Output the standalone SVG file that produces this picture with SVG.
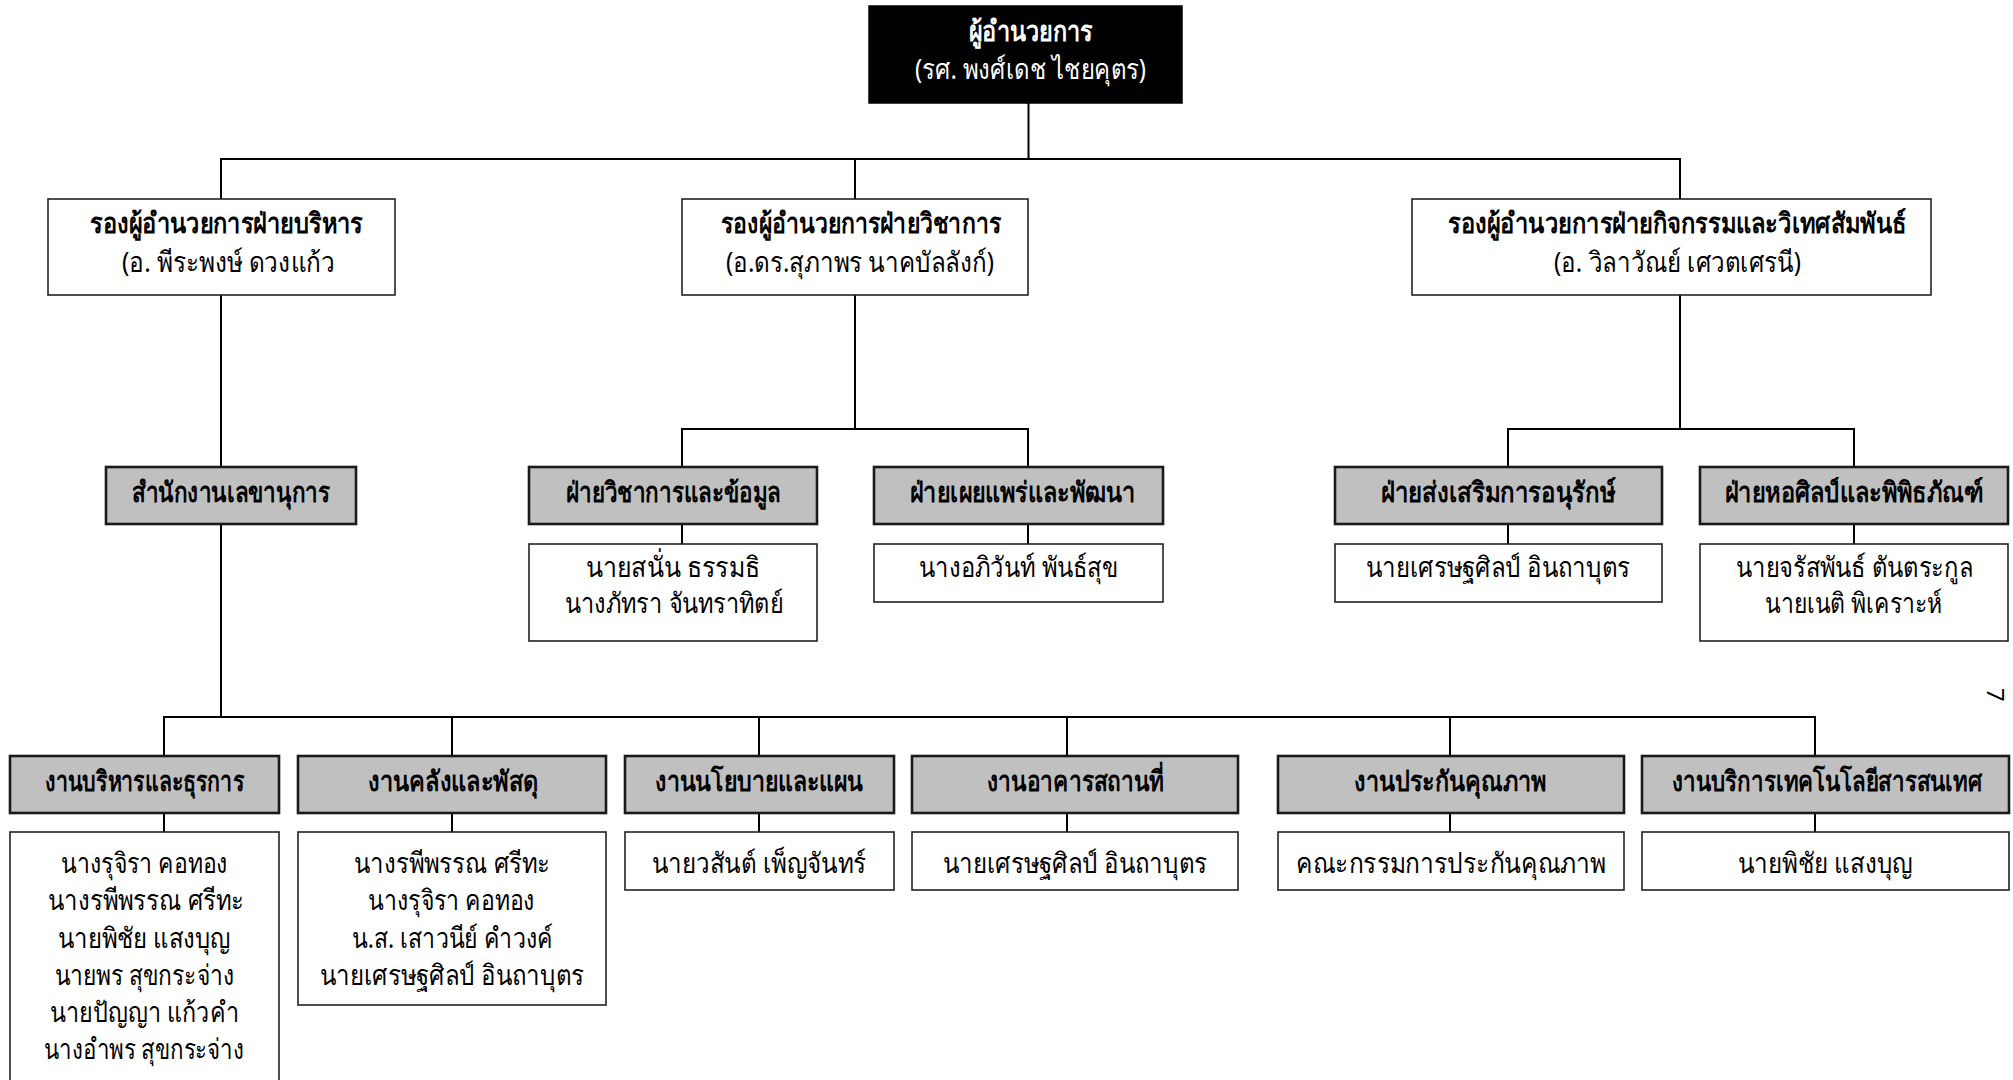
<svg xmlns="http://www.w3.org/2000/svg" width="2013" height="1080" viewBox="0 0 2013 1080">
<style>
text{font-family:"Noto Sans","DejaVu Sans",sans-serif;font-size:28px;fill:#000}
.b{font-weight:bold}
.w{fill:#fff}
.top{fill:#000;stroke:#000;stroke-width:1.5}
.box{fill:#fff;stroke:#222;stroke-width:1.6}
.g{fill:#c0c0c0;stroke:#1a1a1a;stroke-width:2.6}
#connectors line{stroke:#000;stroke-width:2}
</style>
<rect width="2013" height="1080" fill="#fff"/>
<g id="connectors">
<line x1="1028.5" y1="103" x2="1028.5" y2="159"/>
<line x1="220" y1="159" x2="1681" y2="159"/>
<line x1="221" y1="159" x2="221" y2="199"/>
<line x1="855" y1="159" x2="855" y2="199"/>
<line x1="1680" y1="159" x2="1680" y2="199"/>
<line x1="221" y1="295" x2="221" y2="467"/>
<line x1="221" y1="524" x2="221" y2="717"/>
<line x1="855" y1="295" x2="855" y2="429"/>
<line x1="681" y1="429" x2="1029" y2="429"/>
<line x1="682" y1="429" x2="682" y2="544"/>
<line x1="1028" y1="429" x2="1028" y2="544"/>
<line x1="1680" y1="295" x2="1680" y2="429"/>
<line x1="1507" y1="429" x2="1855" y2="429"/>
<line x1="1508" y1="429" x2="1508" y2="544"/>
<line x1="1854" y1="429" x2="1854" y2="544"/>
<line x1="163" y1="717" x2="1816" y2="717"/>
<line x1="164" y1="717" x2="164" y2="832"/>
<line x1="452" y1="717" x2="452" y2="832"/>
<line x1="759" y1="717" x2="759" y2="832"/>
<line x1="1067" y1="717" x2="1067" y2="832"/>
<line x1="1450" y1="717" x2="1450" y2="832"/>
<line x1="1815" y1="717" x2="1815" y2="832"/>
</g>
<g id="director">
<rect class="top" x="869" y="6" width="313" height="97"/>
<text class="b w" x="969" y="41" textLength="124" lengthAdjust="spacingAndGlyphs">ผู้อำนวยการ</text>
<text class="w" x="915" y="79" textLength="231" lengthAdjust="spacingAndGlyphs">(รศ. พงศ์เดช ไชยคุตร)</text>
</g>
<g id="deputy-admin">
<rect class="box" x="48" y="199" width="347" height="96"/>
<text class="b" x="90" y="233" textLength="273" lengthAdjust="spacingAndGlyphs">รองผู้อำนวยการฝ่ายบริหาร</text>
<text x="122" y="272" textLength="213" lengthAdjust="spacingAndGlyphs">(อ. พีระพงษ์ ดวงแก้ว</text>
</g>
<g id="deputy-academic">
<rect class="box" x="682" y="199" width="346" height="96"/>
<text class="b" x="721" y="233" textLength="280" lengthAdjust="spacingAndGlyphs">รองผู้อำนวยการฝ่ายวิชาการ</text>
<text x="726" y="272" textLength="268" lengthAdjust="spacingAndGlyphs">(อ.ดร.สุภาพร นาคบัลลังก์)</text>
</g>
<g id="deputy-activities">
<rect class="box" x="1412" y="199" width="519" height="96"/>
<text class="b" x="1448" y="233" textLength="458" lengthAdjust="spacingAndGlyphs">รองผู้อำนวยการฝ่ายกิจกรรมและวิเทศสัมพันธ์</text>
<text x="1554" y="272" textLength="247" lengthAdjust="spacingAndGlyphs">(อ. วิลาวัณย์ เศวตเศรนี)</text>
</g>
<g id="secretariat">
<rect class="g" x="106" y="467" width="250" height="57"/>
<text class="b" x="132" y="502" textLength="198" lengthAdjust="spacingAndGlyphs">สำนักงานเลขานุการ</text>
</g>
<g id="academic-info">
<rect class="g" x="529" y="467" width="288" height="57"/>
<text class="b" x="566" y="502" textLength="215" lengthAdjust="spacingAndGlyphs">ฝ่ายวิชาการและข้อมูล</text>
<rect class="box" x="529" y="544" width="288" height="97"/>
<text x="586" y="577" textLength="174" lengthAdjust="spacingAndGlyphs">นายสนั่น ธรรมธิ</text>
<text x="565" y="613" textLength="218" lengthAdjust="spacingAndGlyphs">นางภัทรา จันทราทิตย์</text>
</g>
<g id="publishing">
<rect class="g" x="874" y="467" width="289" height="57"/>
<text class="b" x="910" y="502" textLength="225" lengthAdjust="spacingAndGlyphs">ฝ่ายเผยแพร่และพัฒนา</text>
<rect class="box" x="874" y="544" width="289" height="58"/>
<text x="919" y="577" textLength="199" lengthAdjust="spacingAndGlyphs">นางอภิวันท์ พันธ์สุข</text>
</g>
<g id="conservation">
<rect class="g" x="1335" y="467" width="327" height="57"/>
<text class="b" x="1381" y="502" textLength="234" lengthAdjust="spacingAndGlyphs">ฝ่ายส่งเสริมการอนุรักษ์</text>
<rect class="box" x="1335" y="544" width="327" height="58"/>
<text x="1366" y="577" textLength="264" lengthAdjust="spacingAndGlyphs">นายเศรษฐศิลป์ อินถาบุตร</text>
</g>
<g id="gallery">
<rect class="g" x="1700" y="467" width="308" height="57"/>
<text class="b" x="1725" y="502" textLength="258" lengthAdjust="spacingAndGlyphs">ฝ่ายหอศิลป์และพิพิธภัณฑ์</text>
<rect class="box" x="1700" y="544" width="308" height="97"/>
<text x="1736" y="577" textLength="237" lengthAdjust="spacingAndGlyphs">นายจรัสพันธ์ ตันตระกูล</text>
<text x="1765" y="613" textLength="177" lengthAdjust="spacingAndGlyphs">นายเนติ พิเคราะห์</text>
</g>
<g id="admin-work">
<rect class="g" x="10" y="756" width="269" height="57"/>
<text class="b" x="45" y="791" textLength="199" lengthAdjust="spacingAndGlyphs">งานบริหารและธุรการ</text>
<rect class="box" x="10" y="832" width="269" height="270"/>
<text x="61" y="873" textLength="167" lengthAdjust="spacingAndGlyphs">นางรุจิรา คอทอง</text>
<text x="48" y="910" textLength="196" lengthAdjust="spacingAndGlyphs">นางรพีพรรณ ศรีทะ</text>
<text x="58" y="948" textLength="173" lengthAdjust="spacingAndGlyphs">นายพิชัย แสงบุญ</text>
<text x="55" y="985" textLength="179" lengthAdjust="spacingAndGlyphs">นายพร สุขกระจ่าง</text>
<text x="50" y="1022" textLength="189" lengthAdjust="spacingAndGlyphs">นายปัญญา แก้วคำ</text>
<text x="44" y="1059" textLength="200" lengthAdjust="spacingAndGlyphs">นางอำพร สุขกระจ่าง</text>
</g>
<g id="finance">
<rect class="g" x="298" y="756" width="308" height="57"/>
<text class="b" x="368" y="791" textLength="170" lengthAdjust="spacingAndGlyphs">งานคลังและพัสดุ</text>
<rect class="box" x="298" y="832" width="308" height="173"/>
<text x="354" y="873" textLength="196" lengthAdjust="spacingAndGlyphs">นางรพีพรรณ ศรีทะ</text>
<text x="368" y="910" textLength="167" lengthAdjust="spacingAndGlyphs">นางรุจิรา คอทอง</text>
<text x="352" y="948" textLength="201" lengthAdjust="spacingAndGlyphs">น.ส. เสาวนีย์ คำวงค์</text>
<text x="320" y="985" textLength="264" lengthAdjust="spacingAndGlyphs">นายเศรษฐศิลป์ อินถาบุตร</text>
</g>
<g id="policy">
<rect class="g" x="625" y="756" width="269" height="57"/>
<text class="b" x="655" y="791" textLength="208" lengthAdjust="spacingAndGlyphs">งานนโยบายและแผน</text>
<rect class="box" x="625" y="832" width="269" height="58"/>
<text x="652" y="873" textLength="214" lengthAdjust="spacingAndGlyphs">นายวสันต์ เพ็ญจันทร์</text>
</g>
<g id="buildings">
<rect class="g" x="912" y="756" width="326" height="57"/>
<text class="b" x="987" y="791" textLength="177" lengthAdjust="spacingAndGlyphs">งานอาคารสถานที่</text>
<rect class="box" x="912" y="832" width="326" height="58"/>
<text x="943" y="873" textLength="264" lengthAdjust="spacingAndGlyphs">นายเศรษฐศิลป์ อินถาบุตร</text>
</g>
<g id="quality">
<rect class="g" x="1278" y="756" width="346" height="57"/>
<text class="b" x="1354" y="791" textLength="192" lengthAdjust="spacingAndGlyphs">งานประกันคุณภาพ</text>
<rect class="box" x="1278" y="832" width="346" height="58"/>
<text x="1296" y="873" textLength="310" lengthAdjust="spacingAndGlyphs">คณะกรรมการประกันคุณภาพ</text>
</g>
<g id="it">
<rect class="g" x="1642" y="756" width="367" height="57"/>
<text class="b" x="1672" y="791" textLength="310" lengthAdjust="spacingAndGlyphs">งานบริการเทคโนโลยีสารสนเทศ</text>
<rect class="box" x="1642" y="832" width="367" height="58"/>
<text x="1738" y="873" textLength="175" lengthAdjust="spacingAndGlyphs">นายพิชัย แสงบุญ</text>
</g>
<text x="1987" y="688" transform="rotate(90 1987 688)" style="font-size:24px">7</text>
</svg>
